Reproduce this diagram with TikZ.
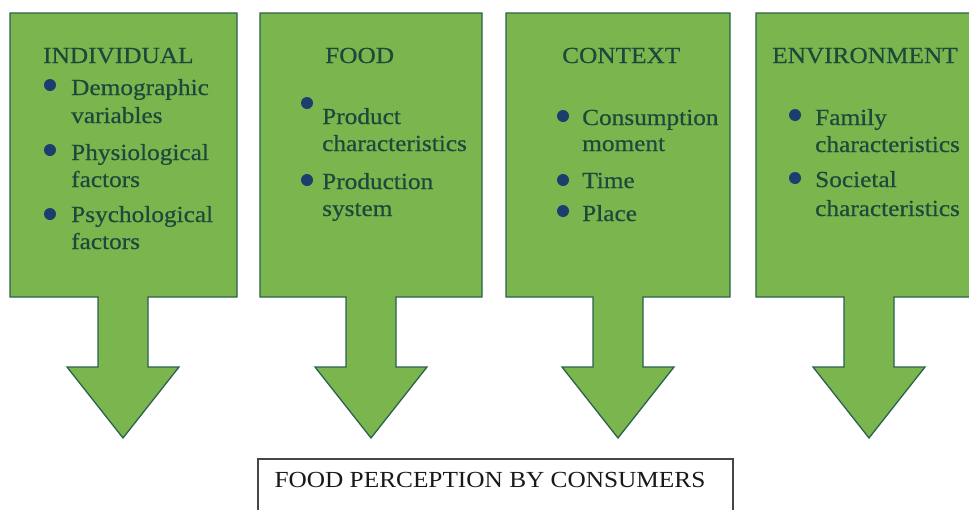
\documentclass[tikz,border=0pt]{standalone}
\usepackage{fontspec}
\setmainfont{Liberation Serif}[FakeStretch=1.1]
\newfontfamily\panelfont{Liberation Serif}[FakeStretch=1.1,FakeBold=0.5]
\definecolor{panelgreen}{RGB}{122,181,78}
\definecolor{panelborder}{RGB}{44,98,78}
\definecolor{txtgreen}{RGB}{26,74,60}
\definecolor{dotblue}{RGB}{26,62,110}
\definecolor{boxgray}{RGB}{70,70,70}
\newcommand\drawpanel[3]{%
  \path[panel] (#1,13) -- (#2,13) -- (#2,297) -- ({#3+25},297) -- ({#3+25},367)
    -- ({#3+56},367) -- (#3,438) -- ({#3-56},367) -- ({#3-25},367)
    -- ({#3-25},297) -- (#1,297) -- cycle;}
\begin{document}
\begin{tikzpicture}[x=1pt,y=-1pt,
  panel/.style={fill=panelgreen,draw=panelborder,line width=1.3pt,line join=miter},
  lbl/.style={anchor=base west,inner sep=0pt,text=txtgreen,font=\panelfont\fontsize{23}{27}\selectfont},
  dot/.style={circle,fill=dotblue,inner sep=0pt,minimum size=12pt},
  result/.style={anchor=base,inner sep=0pt,text=black!90,font=\fontsize{23}{27}\selectfont}]
\useasboundingbox (0,0) rectangle (969,509);
\clip (0,0) rectangle (969,509);
\fill[white] (0,0) rectangle (969,509);

% panels with arrows
\drawpanel{10}{237}{123}
\drawpanel{260}{482}{371}
\drawpanel{506}{730}{618}
\drawpanel{756}{985}{869}

% INDIVIDUAL
\node[lbl] (t1) at (43,63) {INDIVIDUAL};
\node[dot] (b11) at (50,85) {};
\node[lbl] (i11) at (71,95) {Demographic};
\node[lbl] (i12) at (71,123) {variables};
\node[dot] (b12) at (50,150) {};
\node[lbl] (i13) at (71,160) {Physiological};
\node[lbl] (i14) at (71,187) {factors};
\node[dot] (b13) at (50,214) {};
\node[lbl] (i15) at (71,222) {Psychological};
\node[lbl] (i16) at (71,249) {factors};

% FOOD
\node[lbl] (t2) at (325,63) {FOOD};
\node[dot] (b21) at (307,103) {};
\node[lbl] (i21) at (322,124) {Product};
\node[lbl] (i22) at (322,151) {characteristics};
\node[dot] (b22) at (307,180) {};
\node[lbl] (i23) at (322,189) {Production};
\node[lbl] (i24) at (322,216) {system};

% CONTEXT
\node[lbl] (t3) at (562,63) {CONTEXT};
\node[dot] (b31) at (563,116) {};
\node[lbl] (i31) at (582,125) {Consumption};
\node[lbl] (i32) at (582,151) {moment};
\node[dot] (b32) at (563,180) {};
\node[lbl] (i33) at (582,188) {Time};
\node[dot] (b33) at (563,211) {};
\node[lbl] (i34) at (582,221) {Place};

% ENVIRONMENT
\node[lbl] (t4) at (772,63) {ENVIRONMENT};
\node[dot] (b41) at (795,115) {};
\node[lbl] (i41) at (815,125) {Family};
\node[lbl] (i42) at (815,152) {characteristics};
\node[dot] (b42) at (795,178) {};
\node[lbl] (i43) at (815,187) {Societal};
\node[lbl] (i44) at (815,216) {characteristics};

% result box
\draw[boxgray,line width=1.3pt] (258,530) -- (258,459) -- (733,459) -- (733,530);
\node[result] (res) at (490,487) {FOOD PERCEPTION BY CONSUMERS};
\end{tikzpicture}
\end{document}
